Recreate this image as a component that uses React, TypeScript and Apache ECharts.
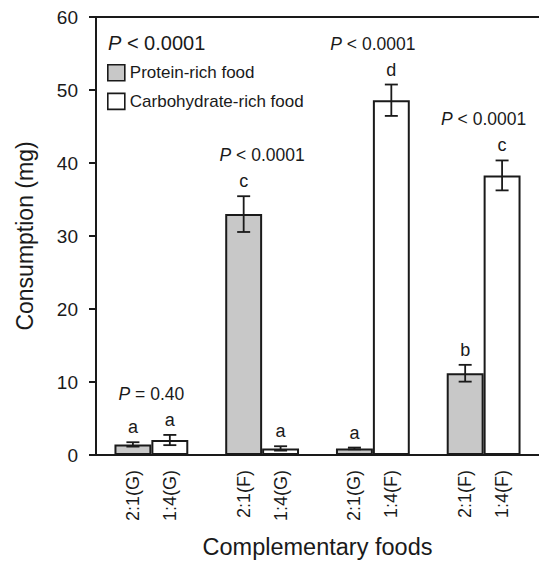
import React, { useEffect, useRef } from 'react';
import * as echarts from 'echarts';

const groupKeys = ['G1', 'G2', 'G3', 'G4'];
const proteinLabels = ['2:1(G)', '2:1(F)', '2:1(G)', '2:1(F)'];
const carbLabels = ['1:4(G)', '1:4(G)', '1:4(F)', '1:4(F)'];
const proteinMeans = [1.45, 33.0, 0.9, 11.2];
const proteinErrors = [0.3, 2.45, 0.12, 1.15];
const carbMeans = [2.05, 0.9, 48.6, 38.3];
const carbErrors = [0.7, 0.3, 2.15, 2.05];
const proteinLetters = ['a', 'c', 'a', 'b'];
const carbLetters = ['a', 'a', 'd', 'c'];
const pSigns = ['=', '<', '<', '<'];
const pValues = ['0.40', '0.0001', '0.0001', '0.0001'];
const overallPSign = '<';
const overallPValue = '0.0001';
const seriesNames = ['Protein-rich food', 'Carbohydrate-rich food'];
const yMin = 0;
const yMax = 60;
const yInterval = 10;

const FONT = '"Liberation Sans", Arial, Helvetica, sans-serif';
const INK = '#1a1a1a';

export default function App() {
  const ref = useRef<HTMLDivElement>(null);

  useEffect(() => {
    if (!ref.current) return;
    const chart = echarts.init(ref.current, undefined, { renderer: 'svg' });

    const errData: number[][] = [];
    const errLetters: string[] = [];
    groupKeys.forEach((_, g) => {
      errData.push([g, -0.5, proteinMeans[g], proteinErrors[g]]);
      errLetters.push(proteinLetters[g]);
      errData.push([g, 0.5, carbMeans[g], carbErrors[g]]);
      errLetters.push(carbLetters[g]);
    });
    const pData = groupKeys.map((_, g) => [
      g,
      Math.max(proteinMeans[g] + proteinErrors[g], carbMeans[g] + carbErrors[g]),
    ]);

    const slotLabel = (v: number) => {
      const g = Math.floor(v / 3);
      const r = Math.round(v - g * 3);
      if (g < 0 || g >= groupKeys.length) return '';
      if (r === 1) return proteinLabels[g];
      if (r === 2) return carbLabels[g];
      return '';
    };

    const richFor = (size: number) => ({
      i: { fontStyle: 'italic', fontWeight: 'normal', fontSize: size, fontFamily: FONT, fill: INK },
      n: { fontStyle: 'normal', fontWeight: 'normal', fontSize: size, fontFamily: FONT, fill: INK },
    });

    chart.setOption({
      animation: false,
      textStyle: { fontFamily: FONT, color: INK },
      grid: { left: 96, top: 17, right: 0, bottom: 102, containLabel: false },
      legend: {
        data: seriesNames,
        orient: 'vertical',
        left: 107,
        top: 64,
        padding: 0,
        itemWidth: 17,
        itemHeight: 16,
        itemGap: 11,
        itemTextGap: 7,
        icon: 'rect',
        selectedMode: false,
        textStyle: { fontSize: 17, fontFamily: FONT, color: INK },
        itemStyle: { borderColor: INK, borderWidth: 1.6 },
      },
      graphic: [
        {
          type: 'text',
          left: 108,
          top: 33,
          style: {
            text: `{i|P}{n| ${overallPSign} ${overallPValue}}`,
            fontWeight: 'normal',
            fontSize: 20,
            fontFamily: FONT,
            fill: INK,
            rich: richFor(20),
          },
        },
      ],
      xAxis: [
        {
          type: 'category',
          data: groupKeys,
          position: 'bottom',
          axisLine: { show: true, lineStyle: { color: INK, width: 2 } },
          axisTick: { show: false },
          axisLabel: { show: false },
          splitLine: { show: false },
          name: 'Complementary foods',
          nameLocation: 'middle',
          nameGap: 80,
          nameTextStyle: { fontSize: 23.5, fontFamily: FONT, color: INK },
        },
        {
          type: 'value',
          min: 0,
          max: groupKeys.length * 3,
          interval: 1,
          position: 'bottom',
          axisLine: { show: false },
          axisTick: { show: false },
          splitLine: { show: false },
          axisLabel: {
            rotate: 90,
            margin: 15,
            fontSize: 18,
            fontFamily: FONT,
            color: INK,
            showMinLabel: true,
            showMaxLabel: true,
            formatter: (v: number) => slotLabel(v),
          },
        },
        {
          type: 'category',
          data: groupKeys,
          position: 'top',
          axisLine: { show: true, lineStyle: { color: INK, width: 2 } },
          axisTick: { show: false },
          axisLabel: { show: false },
          splitLine: { show: false },
        },
      ],
      yAxis: {
        type: 'value',
        min: yMin,
        max: yMax,
        interval: yInterval,
        axisLine: { show: true, lineStyle: { color: INK, width: 2 } },
        axisTick: { show: true, length: 7, lineStyle: { color: INK, width: 2 } },
        splitLine: { show: false },
        axisLabel: { fontSize: 19, fontFamily: FONT, color: INK, margin: 18 },
        name: 'Consumption (mg)',
        nameLocation: 'middle',
        nameGap: 60,
        nameTextStyle: { fontSize: 23, fontFamily: FONT, color: INK },
      },
      series: [
        {
          type: 'bar',
          name: seriesNames[0],
          data: proteinMeans,
          xAxisIndex: 0,
          barWidth: '33.33%',
          barGap: '0%',
          itemStyle: { color: '#c8c8c8', borderColor: INK, borderWidth: 2 },
        },
        {
          type: 'bar',
          name: seriesNames[1],
          data: carbMeans,
          xAxisIndex: 0,
          barWidth: '33.33%',
          barGap: '0%',
          itemStyle: { color: '#ffffff', borderColor: INK, borderWidth: 2 },
        },
        {
          type: 'custom',
          name: 'errors',
          xAxisIndex: 0,
          yAxisIndex: 0,
          data: errData,
          encode: { x: 0, y: 2 },
          z: 5,
          renderItem: (params: any, api: any) => {
            const cat = api.value(0);
            const side = api.value(1);
            const mean = api.value(2);
            const err = api.value(3);
            const bw = api.size([1, 0])[0] / 3;
            const base = api.coord([cat, mean]);
            const x = base[0] + side * bw;
            const yTop = api.coord([cat, mean + err])[1];
            const yBot = api.coord([cat, Math.max(mean - err, 0)])[1];
            const cap = 6.5;
            const st = { stroke: INK, lineWidth: 1.8 };
            return {
              type: 'group',
              children: [
                { type: 'line', shape: { x1: x, y1: yTop, x2: x, y2: yBot }, style: st },
                { type: 'line', shape: { x1: x - cap, y1: yTop, x2: x + cap, y2: yTop }, style: st },
                { type: 'line', shape: { x1: x - cap, y1: yBot, x2: x + cap, y2: yBot }, style: st },
                {
                  type: 'text',
                  x,
                  y: yTop - 15,
                  style: {
                    text: errLetters[params.dataIndex],
                    fill: INK,
                    fontSize: 18,
                    fontWeight: 'normal',
                    fontFamily: FONT,
                    align: 'center',
                    verticalAlign: 'middle',
                  },
                },
              ],
            };
          },
        },
        {
          type: 'custom',
          name: 'pvalues',
          xAxisIndex: 0,
          yAxisIndex: 0,
          data: pData,
          encode: { x: 0, y: 1 },
          z: 5,
          renderItem: (params: any, api: any) => {
            const g = api.value(0);
            const top = api.value(1);
            const pt = api.coord([g, top]);
            return {
              type: 'text',
              x: pt[0],
              y: pt[1] - 41,
              style: {
                text: `{i|P}{n| ${pSigns[params.dataIndex]} ${pValues[params.dataIndex]}}`,
                rich: richFor(17.5),
                fill: INK,
                fontSize: 17.5,
                fontWeight: 'normal',
                fontFamily: FONT,
                align: 'center',
                verticalAlign: 'middle',
              },
            };
          },
        },
      ],
    });

    return () => chart.dispose();
  }, []);

  return (
    <div
      ref={ref}
      style={{ position: 'fixed', left: 0, top: 0, width: 539, height: 564, background: '#fff' }}
    />
  );
}
